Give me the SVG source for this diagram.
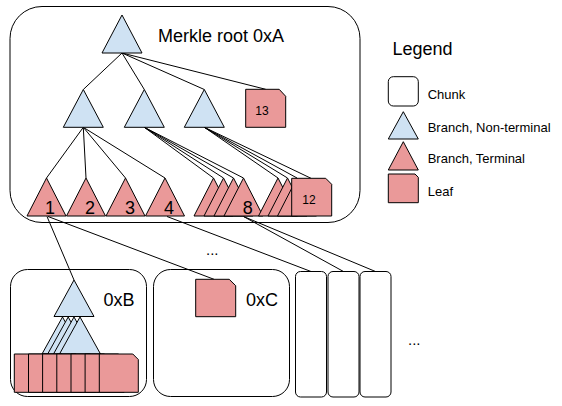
<svg xmlns="http://www.w3.org/2000/svg" width="562" height="406" viewBox="0 0 562 406">
<style>
.chunk{fill:#fff;stroke:#000;stroke-width:1}
.nt{fill:#cfe2f3;stroke:#000;stroke-width:1;stroke-linejoin:miter}
.t{fill:#ea9999;stroke:#000;stroke-width:1}
.leaf{fill:#ea9999;stroke:#000;stroke-width:1}
.con line{stroke:#000;stroke-width:1}
text{font-family:"Liberation Sans",Arial,sans-serif;fill:#000}
.big{font-size:18px}
.sm{font-size:12px}
.lg{font-size:13px}
</style>
<rect width="562" height="406" fill="#fff"/>
<!-- chunks -->
<g id="chunk-A"><rect class="chunk" x="10" y="6.5" width="350" height="216" rx="32" ry="32"/></g>
<g id="chunk-B"><rect class="chunk" x="10.5" y="269.5" width="136" height="127" rx="17" ry="17"/></g>
<g id="chunk-C"><rect class="chunk" x="153.5" y="269.5" width="136" height="127" rx="17" ry="17"/></g>
<g id="chunk-D1"><rect class="chunk" x="295.5" y="271.5" width="31" height="125.5" rx="5" ry="5"/></g>
<g id="chunk-D2"><rect class="chunk" x="328" y="271.5" width="31" height="125.5" rx="5" ry="5"/></g>
<g id="chunk-D3"><rect class="chunk" x="360" y="271.5" width="31" height="125.5" rx="5" ry="5"/></g>
<!-- connectors -->
<g id="connectors" class="con">
<line x1="122" y1="53" x2="83.3" y2="89.5"/>
<line x1="122" y1="53" x2="144.3" y2="89.5"/>
<line x1="122" y1="53" x2="204.3" y2="89.5"/>
<line x1="122" y1="53" x2="265.7" y2="89.3"/>
<line x1="83.3" y1="127.3" x2="46.5" y2="178"/>
<line x1="83.3" y1="127.3" x2="86" y2="178"/>
<line x1="83.3" y1="127.3" x2="125.5" y2="178"/>
<line x1="83.3" y1="127.3" x2="165" y2="178"/>
<line x1="144.3" y1="127.3" x2="213.5" y2="178"/>
<line x1="144.3" y1="127.3" x2="223.5" y2="178"/>
<line x1="144.3" y1="127.3" x2="233.5" y2="178"/>
<line x1="144.3" y1="127.3" x2="243.5" y2="178"/>
<line x1="204.3" y1="127.3" x2="278" y2="178"/>
<line x1="204.3" y1="127.3" x2="287.5" y2="178"/>
<line x1="204.3" y1="127.3" x2="297" y2="178"/>
<line x1="204.3" y1="127.3" x2="311" y2="178.3"/>
<line x1="47" y1="216.5" x2="74" y2="280"/>
<line x1="48" y1="216.5" x2="214" y2="279.3"/>
<line x1="167" y1="216.5" x2="311" y2="271.5"/>
<line x1="243.5" y1="216.5" x2="343.5" y2="271.5"/>
<line x1="243.5" y1="216.5" x2="375.5" y2="271.5"/>
</g>
<!-- chunk A nodes -->
<g id="root"><polygon class="nt" points="122,15 142,53 102,53"/></g>
<text class="big" x="158" y="42">Merkle root 0xA</text>
<g id="b-left"><polygon class="nt" points="83.3,89.5 103.3,127.3 63.3,127.3"/></g>
<g id="b-mid"><polygon class="nt" points="144.3,89.5 164.3,127.3 124.3,127.3"/></g>
<g id="b-right"><polygon class="nt" points="204.3,89.5 224.3,127.3 184.3,127.3"/></g>
<g id="leaf-13"><path class="leaf" d="M245.7,89.3 H279.2 L285.7,96.3 V127.3 H245.7 Z"/><text class="sm" x="262" y="115" text-anchor="middle">13</text></g>
<g id="t-1"><polygon class="t" points="46.5,178 66,216 27,216"/><text class="big" x="50" y="213.5" text-anchor="middle">1</text></g>
<g id="t-2"><polygon class="t" points="86,178 105.5,216 66.5,216"/><text class="big" x="90" y="213.5" text-anchor="middle">2</text></g>
<g id="t-3"><polygon class="t" points="125.5,178 145,216 106,216"/><text class="big" x="130" y="213.5" text-anchor="middle">3</text></g>
<g id="t-4"><polygon class="t" points="165,178 184.5,216 145.5,216"/><text class="big" x="169" y="213.5" text-anchor="middle">4</text></g>
<g id="t-5"><polygon class="t" points="213.5,178 233,216 194,216"/></g>
<g id="t-6"><polygon class="t" points="223.5,178 243,216 204,216"/></g>
<g id="t-7"><polygon class="t" points="233.5,178 253,216 214,216"/></g>
<g id="t-8"><polygon class="t" points="243.5,178 263,216 224,216"/><text class="big" x="247.7" y="213.5" text-anchor="middle">8</text></g>
<g id="t-9"><polygon class="t" points="278,178 297.5,216 258.5,216"/></g>
<g id="t-10"><polygon class="t" points="287.5,178 307,216 268,216"/></g>
<g id="t-11"><polygon class="t" points="297,178 316.5,216 277.5,216"/></g>
<g id="leaf-12"><path class="leaf" d="M291.7,178.3 H325.7 L331.7,184.3 V216 H291.7 Z"/><text class="sm" x="309" y="203.5" text-anchor="middle">12</text></g>
<!-- chunk B nodes -->
<text class="big" x="103.5" y="306">0xB</text>
<g id="b-root"><polygon class="nt" points="74,280 94,316.5 54,316.5"/></g>
<g id="b-n1"><polygon class="nt" points="62.5,317 83,354 42,354"/></g>
<g id="b-n2"><polygon class="nt" points="68.2,317 88.7,354 47.7,354"/></g>
<g id="b-n3"><polygon class="nt" points="74,317 94.5,354 53.5,354"/></g>
<g id="b-n4"><polygon class="nt" points="80,317 100.5,354 59.5,354"/></g>
<g id="b-l1"><path class="leaf" d="M14.3,354 H47.8 L53.3,359.5 V392.3 H14.3 Z"/></g>
<g id="b-l2"><path class="leaf" d="M28.5,354 H62 L67.5,359.5 V392.3 H28.5 Z"/></g>
<g id="b-l3"><path class="leaf" d="M42.6,354 H76.1 L81.6,359.5 V392.3 H42.6 Z"/></g>
<g id="b-l4"><path class="leaf" d="M56.8,354 H90.3 L95.8,359.5 V392.3 H56.8 Z"/></g>
<g id="b-l5"><path class="leaf" d="M71,354 H104.5 L110,359.5 V392.3 H71 Z"/></g>
<g id="b-l6"><path class="leaf" d="M85.1,354 H118.6 L124.1,359.5 V392.3 H85.1 Z"/></g>
<g id="b-l7"><path class="leaf" d="M99.3,354 H132.8 L138.3,359.5 V392.3 H99.3 Z"/></g>
<!-- chunk C -->
<g id="c-leaf"><path class="leaf" d="M195.7,279.3 H229.2 L235.7,285.7 V316.7 H195.7 Z"/></g>
<text class="big" x="246" y="306">0xC</text>
<text x="206" y="255" font-size="15">...</text>
<text x="408" y="345" font-size="15">...</text>
<!-- legend -->
<g id="legend">
<text class="big" x="392.5" y="55">Legend</text>
<rect class="chunk" x="388.3" y="76.7" width="30" height="29.3" rx="5" ry="5"/>
<text class="lg" x="427.7" y="99">Chunk</text>
<polygon class="nt" points="403.3,111.7 418.3,139 388.3,139"/>
<text class="lg" x="427.7" y="131.7">Branch, Non-terminal</text>
<polygon class="t" points="403.3,141.7 418.3,170 388.3,170"/>
<text class="lg" x="427.7" y="163.3">Branch, Terminal</text>
<path class="leaf" d="M388.3,174 H415 L418.3,177.3 V202.7 H388.3 Z"/>
<text class="lg" x="427.7" y="195.7">Leaf</text>
</g>
</svg>
